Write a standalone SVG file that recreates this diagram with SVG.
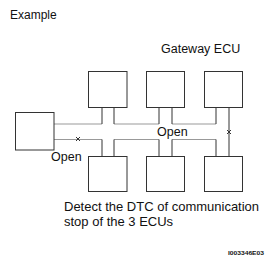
<svg xmlns="http://www.w3.org/2000/svg" width="273" height="266" viewBox="0 0 273 266">
<style>
.box{fill:#fff;stroke:#333;stroke-width:1}
.bus{fill:none;stroke:#999;stroke-width:1.2}
.stub{fill:none;stroke:#333;stroke-width:1}
.t{font-family:"Liberation Sans",Arial,sans-serif;fill:#111}
</style>
<rect width="273" height="266" fill="#fff"/>
<text class="t" x="10" y="19" font-size="12">Example</text>
<text class="t" x="161" y="53" font-size="12.5">Gateway ECU</text>
<g id="connectors">
<polyline class="bus" points="54,124 102,124"/>
<polyline class="bus" points="114,124 159,124"/>
<polyline class="bus" points="172,124 216,124"/>
<polyline class="bus" points="54,139.5 102,139.5"/>
<polyline class="bus" points="114,139.5 159,139.5"/>
<polyline class="bus" points="172,139.5 216,139.5"/>
<path class="stub" d="M102,107V124M114,107V124M159,107V124M172,107V124M216,107V124M102,139.5V156M114,139.5V156M159,139.5V156M172,139.5V156M216,139.5V156M229,107V156"/>
<path class="stub" stroke-width="1.2" d="M76,137L80,141M80,137L76,141M227,130L231,134M231,130L227,134"/>
</g>
<g id="left-ecu"><rect class="box" x="15.5" y="112.5" width="38.5" height="37.5"/></g>
<g id="top-ecu-1"><rect class="box" x="88.5" y="71.5" width="38.5" height="36"/></g>
<g id="top-ecu-2"><rect class="box" x="146.5" y="71.5" width="38" height="36"/></g>
<g id="top-ecu-3"><rect class="box" x="204.5" y="71.5" width="38" height="36"/></g>
<g id="bottom-ecu-1"><rect class="box" x="88.5" y="156.5" width="38.5" height="35"/></g>
<g id="bottom-ecu-2"><rect class="box" x="146.5" y="156.5" width="38" height="35"/></g>
<g id="bottom-ecu-3"><rect class="box" x="204.5" y="156.5" width="38" height="35"/></g>
<text class="t" x="157" y="136" font-size="12.5">Open</text>
<text class="t" x="51" y="161" font-size="12.5">Open</text>
<text class="t" x="64" y="211" font-size="13">Detect the DTC of communication</text>
<text class="t" x="64" y="226" font-size="13">stop of the 3 ECUs</text>
<text class="t" x="228" y="255" font-size="6" font-weight="bold" textLength="36" lengthAdjust="spacingAndGlyphs">I003346E03</text>
</svg>
